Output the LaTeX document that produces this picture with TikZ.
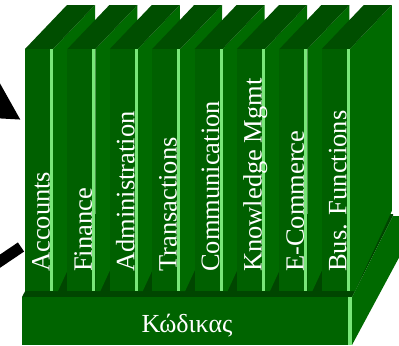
\documentclass[tikz,border=0pt]{standalone}
\usepackage{fontspec}
\setmainfont{Liberation Serif}
\usetikzlibrary{arrows.meta}
\definecolor{frontgreen}{RGB}{0,96,0}
\definecolor{sidegreen}{RGB}{0,106,0}
\definecolor{topgreen}{RGB}{0,78,0}
\definecolor{shadegreen}{RGB}{0,70,0}
\definecolor{basegreen}{RGB}{0,100,0}
\definecolor{edgegreen}{RGB}{120,230,120}
\begin{document}
\begin{tikzpicture}[x=1bp,y=-1bp,
    lbl/.style={rotate=90,anchor=base west,inner sep=0pt,text=white,
      font=\fontsize{26.5bp}{30bp}\selectfont},
    basetext/.style={anchor=base,inner sep=0pt,text=white,
      font=\fontsize{26bp}{30bp}\selectfont}]
  \useasboundingbox (0,0) rectangle (399,346);
  \clip (0,0) rectangle (399,346);
  % two links coming in from the left
  \coordinate (inA) at (-64,67);
  \coordinate (tipA) at (21,120);
  \coordinate (inB) at (-62,303);
  \coordinate (endB) at (21,247);
  \draw[line width=11bp,-{Triangle[length=45bp,width=45bp]}] (inA) -- (tipA);
  \draw[line width=11bp] (inB) -- (endB);
  % base slab
  \fill[shadegreen] (22,297) -- (66,214) -- (393,214) -- (393,216) -- (352,297) -- cycle;
  \fill[sidegreen] (352,297) -- (393,216) -- (402,216) -- (402,252) -- (352,345) -- cycle;
  \fill[basegreen] (22,297) rectangle (352,345);
  \fill[edgegreen] (348,297) rectangle (352,345);
  \node[basetext] (code) at (187,332) {Κώδικας};
  % the eight modules standing on it
  \foreach \name [count=\i from 0] in {Accounts,Finance,Administration,
      Transactions,Communication,Knowledge Mgmt,E-Commerce,Bus. Functions} {
    \pgfmathsetmacro{\L}{25+42.4*\i}
    \pgfmathsetmacro{\R}{\L+25}
    \fill[sidegreen] (\R+3,49) -- (\R+45,5) -- (\R+45,211) -- (\R+8,291) -- (\R+3,291) -- cycle;
    \fill[topgreen] (\L,49) -- (\L+42,5) -- (\R+45,5) -- (\R+3,49) -- cycle;
    \fill[frontgreen] (\L,49) rectangle (\R,291);
    \fill[edgegreen] (\R,49) rectangle (\R+3,291);
    \node[lbl] (mod\i) at (\R-0.5,272) {\name};
  }
\end{tikzpicture}
\end{document}
